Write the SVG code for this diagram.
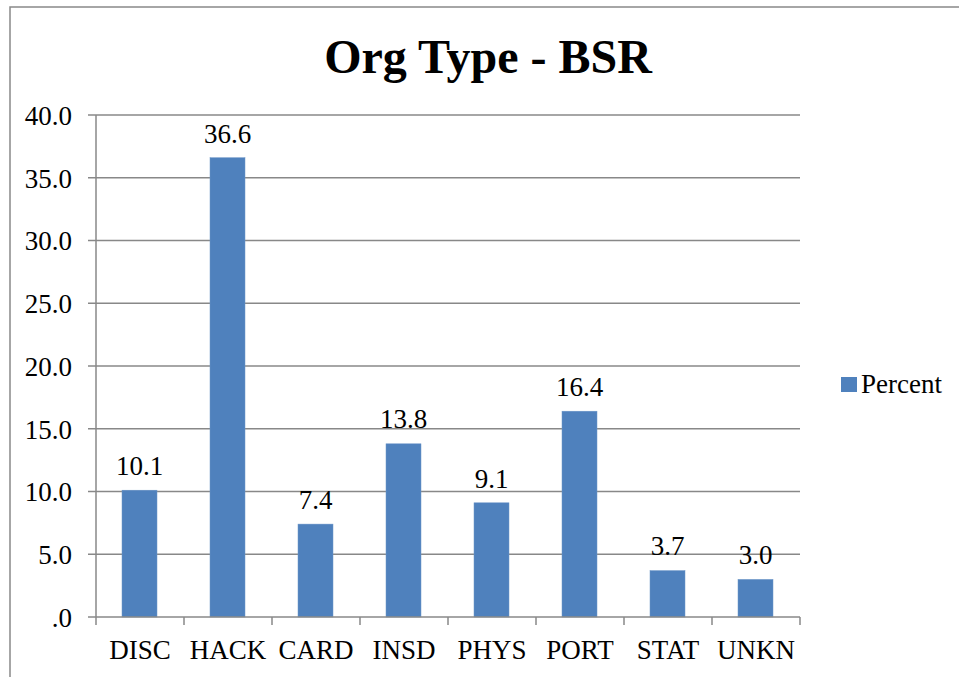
<svg xmlns="http://www.w3.org/2000/svg" width="959" height="677" viewBox="0 0 959 677">
<style>
.grid{stroke:#888;stroke-width:1.5;fill:none}
.ax{stroke:#888;stroke-width:1.5;fill:none}
.bar{fill:#4F81BD;stroke:#6c96c8;stroke-width:0.5}
.t{font-family:"Liberation Serif","Times New Roman",serif;font-size:27px;fill:#000}
.yl{text-anchor:end}
.c{text-anchor:middle}
.title{font-family:"Liberation Serif","Times New Roman",serif;font-size:48px;font-weight:bold;text-anchor:middle;fill:#000}
</style>
<rect x="0" y="0" width="959" height="677" fill="#fff"/>
<rect id="frame" x="10" y="7" width="960" height="680" fill="none" stroke="#898989" stroke-width="1.5"/>
<text id="title" class="title" x="488" y="73">Org Type - BSR</text>
<g id="gridlines">
<line class="grid" x1="88" y1="115" x2="800" y2="115"/>
<line class="grid" x1="88" y1="177.75" x2="800" y2="177.75"/>
<line class="grid" x1="88" y1="240.5" x2="800" y2="240.5"/>
<line class="grid" x1="88" y1="303.25" x2="800" y2="303.25"/>
<line class="grid" x1="88" y1="366" x2="800" y2="366"/>
<line class="grid" x1="88" y1="428.75" x2="800" y2="428.75"/>
<line class="grid" x1="88" y1="491.5" x2="800" y2="491.5"/>
<line class="grid" x1="88" y1="554.25" x2="800" y2="554.25"/>
</g>
<g id="y-axis-labels" class="t yl">
<text x="72" y="125">40.0</text>
<text x="72" y="188">35.0</text>
<text x="72" y="250">30.0</text>
<text x="72" y="313">25.0</text>
<text x="72" y="376">20.0</text>
<text x="72" y="439">15.0</text>
<text x="72" y="501">10.0</text>
<text x="72" y="564">5.0</text>
<text x="72" y="627">.0</text>
</g>
<g id="bars">
<rect id="bar-disc" class="bar" x="122" y="490.2" width="35" height="126.8"/>
<rect id="bar-hack" class="bar" x="210" y="157.7" width="35" height="459.3"/>
<rect id="bar-card" class="bar" x="298" y="524.1" width="35" height="92.9"/>
<rect id="bar-insd" class="bar" x="386" y="443.8" width="35" height="173.2"/>
<rect id="bar-phys" class="bar" x="474" y="502.8" width="35" height="114.2"/>
<rect id="bar-port" class="bar" x="562" y="411.2" width="35" height="205.8"/>
<rect id="bar-stat" class="bar" x="650" y="570.6" width="35" height="46.4"/>
<rect id="bar-unkn" class="bar" x="738" y="579.4" width="35" height="37.6"/>
</g>
<g id="axes">
<line class="ax" x1="96" y1="115" x2="96" y2="625"/>
<line class="ax" x1="88" y1="617" x2="800" y2="617"/>
<line class="ax" x1="184" y1="617" x2="184" y2="625"/>
<line class="ax" x1="272" y1="617" x2="272" y2="625"/>
<line class="ax" x1="360" y1="617" x2="360" y2="625"/>
<line class="ax" x1="448" y1="617" x2="448" y2="625"/>
<line class="ax" x1="536" y1="617" x2="536" y2="625"/>
<line class="ax" x1="624" y1="617" x2="624" y2="625"/>
<line class="ax" x1="712" y1="617" x2="712" y2="625"/>
<line class="ax" x1="800" y1="617" x2="800" y2="625"/>
</g>
<g id="value-labels" class="t c">
<text x="139.5" y="475">10.1</text>
<text x="227.5" y="143">36.6</text>
<text x="315.5" y="509">7.4</text>
<text x="403.5" y="428">13.8</text>
<text x="491.5" y="488">9.1</text>
<text x="579.5" y="396">16.4</text>
<text x="667.5" y="555">3.7</text>
<text x="755.5" y="564">3.0</text>
</g>
<g id="category-labels" class="t c">
<text x="140" y="659">DISC</text>
<text x="228" y="659">HACK</text>
<text x="316" y="659">CARD</text>
<text x="404" y="659">INSD</text>
<text x="492" y="659">PHYS</text>
<text x="580" y="659">PORT</text>
<text x="668" y="659">STAT</text>
<text x="756" y="659">UNKN</text>
</g>
<g id="legend">
<rect x="841" y="377" width="16" height="15" fill="#4F81BD"/>
<text class="t" x="861" y="393">Percent</text>
</g>
</svg>
